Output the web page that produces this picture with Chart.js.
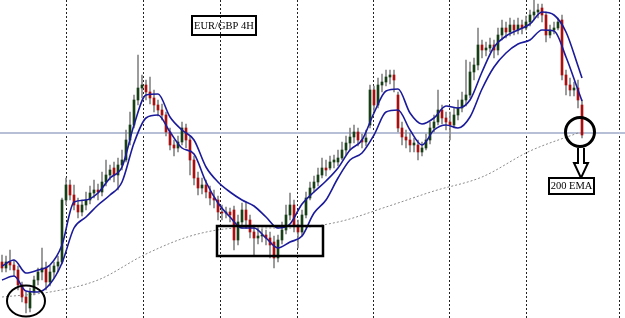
<!DOCTYPE html>
<html>
<head>
<meta charset="utf-8">
<title>EUR/GBP 4H</title>
<script src="https://cdn.jsdelivr.net/npm/chart.js@4.4.1/dist/chart.umd.min.js"></script>
<style>
  html, body { margin: 0; padding: 0; background: #fff; }
  canvas { display: block; }
</style>
</head>
<body>
<canvas id="grafico" width="625" height="318"></canvas>
<script>
// EUR/GBP 4H, quotes in 1/10000 (8456 = 0.8456), one entry per candle
const open = [
  8456,8450,8456,8453,8448,8433,8421,8410,8426,8438, 8446,8450,8436,8446,8452,8456,8518,8533,8523,8513,
  8506,8513,8518,8525,8528,8526,8536,8543,8550,8543, 8553,8558,8578,8593,8618,8630,8633,8626,8620,8613,
  8608,8603,8586,8573,8570,8576,8590,8578,8558,8540, 8530,8533,8526,8520,8518,8506,8505,8506,8508,8478,
  8496,8508,8498,8486,8480,8482,8483,8480,8476,8460, 8478,8488,8503,8513,8493,8486,8503,8520,8530,8536,
  8543,8550,8550,8556,8556,8560,8568,8575,8581,8586, 8578,8576,8593,8628,8613,8633,8636,8641,8643,8623,
  8590,8581,8578,8573,8573,8566,8570,8578,8590,8596, 8608,8600,8596,8593,8603,8610,8618,8623,8646,8653,
  8673,8668,8670,8673,8668,8683,8690,8686,8693,8688, 8693,8690,8696,8703,8706,8710,8703,8683,8688,8690,
  8698,8643,8633,8628,8630,8613
];
const close = [
  8450,8456,8453,8448,8433,8421,8415,8426,8438,8446, 8450,8436,8446,8452,8456,8518,8533,8523,8513,8506,
  8513,8518,8525,8528,8526,8536,8543,8548,8543,8553, 8558,8578,8593,8618,8630,8633,8626,8620,8613,8608,
  8603,8586,8573,8570,8576,8590,8578,8558,8540,8530, 8533,8526,8520,8518,8506,8505,8506,8503,8478,8496,
  8508,8498,8486,8480,8482,8483,8480,8473,8460,8478, 8488,8503,8513,8493,8486,8503,8520,8530,8536,8543,
  8550,8548,8556,8558,8560,8568,8575,8581,8586,8578, 8576,8580,8628,8613,8633,8636,8641,8643,8638,8590,
  8581,8578,8573,8575,8566,8570,8578,8590,8596,8608, 8600,8596,8593,8603,8610,8618,8623,8646,8653,8673,
  8668,8670,8673,8668,8683,8690,8686,8693,8688,8693, 8690,8696,8703,8706,8708,8703,8683,8688,8690,8696,
  8643,8633,8628,8630,8618,8583
];
const high = [
  8463,8462,8468,8458,8452,8436,8426,8430,8442,8450, 8470,8456,8452,8456,8462,8520,8540,8538,8533,8520,
  8518,8526,8532,8538,8534,8546,8558,8553,8556,8560, 8568,8588,8606,8623,8663,8643,8638,8641,8628,8618,
  8614,8606,8590,8578,8582,8596,8594,8582,8562,8546, 8540,8538,8532,8528,8522,8513,8511,8510,8512,8503,
  8515,8516,8503,8493,8490,8489,8488,8486,8482,8483, 8496,8513,8525,8518,8498,8508,8526,8536,8542,8550,
  8560,8558,8562,8563,8568,8576,8582,8590,8593,8590, 8584,8588,8633,8632,8640,8644,8648,8648,8648,8626,
  8596,8588,8585,8580,8578,8576,8584,8596,8603,8628, 8613,8606,8606,8610,8618,8626,8658,8656,8660,8690,
  8678,8676,8680,8678,8690,8698,8696,8700,8698,8700, 8698,8702,8708,8718,8714,8714,8706,8693,8696,8700,
  8703,8648,8640,8636,8638,8618
];
const low = [
  8446,8446,8448,8442,8428,8416,8405,8406,8423,8433, 8438,8428,8432,8440,8446,8454,8513,8518,8508,8500,
  8502,8508,8514,8520,8518,8522,8532,8538,8536,8528, 8548,8556,8573,8590,8613,8620,8618,8614,8606,8602,
  8598,8582,8568,8562,8566,8573,8570,8543,8533,8523, 8524,8520,8513,8510,8498,8498,8500,8496,8468,8473,
  8492,8490,8480,8463,8474,8476,8473,8460,8450,8456, 8474,8484,8498,8486,8470,8482,8500,8518,8526,8532,
  8540,8542,8548,8550,8552,8558,8563,8568,8575,8572, 8570,8572,8590,8606,8610,8626,8632,8634,8626,8586,
  8573,8570,8566,8566,8558,8562,8568,8574,8586,8593, 8594,8588,8578,8590,8598,8606,8612,8620,8638,8648,
  8660,8662,8666,8660,8663,8678,8680,8682,8683,8684, 8684,8688,8692,8698,8700,8696,8676,8680,8684,8688,
  8638,8623,8622,8622,8610,8580
];

const emaIdx = [0,3,6,9,12,15,18,21,24,27,30,33,36,39,42,45,48,51,54,57,60,63,66,69,72,75,78,81,84,87,
  90,93,96,99,102,105,108,111,114,117,120,123,126,129,132,135,138,141,144,145];
const emaFast = [8452,8458,8445,8448,8453,8473,8516,8518,8525,8540,8551,8593,8623,8624,8601,8588,8578,8551,8536,8526,
  8518,8512,8501,8490,8494,8514,8526,8537,8550,8568,8578,8605,8627,8629,8605,8594,8600,8612,8610,8618,
  8646,8671,8682,8688,8694,8706,8703,8686,8652,8640];
const emaSlow = [8438,8442,8427,8426,8434,8455,8490,8501,8513,8523,8536,8575,8600,8603,8586,8570,8564,8536,8515,8501,
  8490,8490,8480,8470,8476,8482,8505,8518,8540,8558,8565,8583,8606,8608,8588,8573,8588,8593,8590,8601,
  8629,8651,8665,8674,8678,8688,8687,8661,8628,8617];
const ema200Idx = [0,12,24,36,48,60,72,84,96,108,120,132,144];
const ema200 = [8421,8426,8438,8464,8483,8490,8490,8496,8511,8527,8541,8567,8585];

const level = 8585;           // horizontal line
const sessionBreaks = [16, 35.25, 54.5, 73.75, 92.75, 111.75, 131, 154.25];
const zoneX = [53.75, 80.25], zoneY = [8462, 8492];   // consolidation box
const lowMark = {x: 6, y: 8417};      // circled low
const emaTouch = {x: 144.5, y: 8586}; // circled 200 EMA touch

const idx = open.map((_, i) => i);
const wicks = idx.map(i => ({x: i, y: [low[i], high[i]]}));
const bodies = idx.map(i => ({x: i, y: [open[i], close[i]]}));
const bodyColors = idx.map(i => close[i] >= open[i] ? '#163f16' : '#a81010');

const marks = {
  id: 'marks',
  beforeDatasetsDraw(chart) {
    const {ctx, chartArea, scales: {x}} = chart;
    ctx.save();
    ctx.strokeStyle = '#222';
    ctx.lineWidth = 1;
    ctx.setLineDash([2, 2]);
    sessionBreaks.forEach(v => {
      const px = Math.round(x.getPixelForValue(v)) + 0.5;
      ctx.beginPath(); ctx.moveTo(px, chartArea.top); ctx.lineTo(px, chartArea.bottom); ctx.stroke();
    });
    ctx.restore();
  },
  afterDatasetsDraw(chart) {
    const {ctx, scales: {x, y}} = chart;
    ctx.save();
    ctx.strokeStyle = '#000';
    ctx.fillStyle = '#000';
    ctx.textAlign = 'center';
    ctx.textBaseline = 'middle';

    // title
    ctx.lineWidth = 2;
    ctx.strokeRect(192, 16, 64, 19);
    ctx.font = '10.5px "Liberation Serif"';
    ctx.fillText('EUR/GBP 4H', 224, 26);

    // consolidation box
    const x1 = x.getPixelForValue(zoneX[0]), x2 = x.getPixelForValue(zoneX[1]);
    const y1 = y.getPixelForValue(zoneY[1]), y2 = y.getPixelForValue(zoneY[0]);
    ctx.lineWidth = 2.5;
    ctx.strokeRect(x1, y1, x2 - x1, y2 - y1);

    // circled low
    ctx.lineWidth = 2;
    ctx.beginPath();
    ctx.ellipse(x.getPixelForValue(lowMark.x), y.getPixelForValue(lowMark.y), 19, 15.5, 0, 0, Math.PI * 2);
    ctx.stroke();

    // circled touch of the 200 EMA
    const cx = x.getPixelForValue(emaTouch.x), cy = y.getPixelForValue(emaTouch.y);
    ctx.lineWidth = 3;
    ctx.beginPath();
    ctx.arc(cx, cy, 14.5, 0, Math.PI * 2);
    ctx.stroke();

    // hollow arrow down to the label
    const ax = cx + 1, top = cy + 16;
    ctx.lineWidth = 2;
    ctx.beginPath();
    ctx.moveTo(ax - 3, top); ctx.lineTo(ax - 3, top + 15); ctx.lineTo(ax - 7, top + 15);
    ctx.lineTo(ax, top + 30); ctx.lineTo(ax + 7, top + 15); ctx.lineTo(ax + 3, top + 15);
    ctx.lineTo(ax + 3, top);
    ctx.fillStyle = '#fff'; ctx.fill(); ctx.stroke();

    ctx.fillStyle = '#fff';
    ctx.fillRect(549, 178, 45, 16);
    ctx.strokeRect(549, 178, 45, 16);
    ctx.fillStyle = '#000';
    ctx.font = '10.5px "Liberation Serif"';
    ctx.fillText('200 EMA', 571.5, 186.5);
    ctx.restore();
  }
};

const line = (xs, ys, color, width, extra) => Object.assign({
  type: 'line',
  data: xs.map((v, k) => ({x: v, y: ys[k]})),
  borderColor: color, borderWidth: width,
  pointRadius: 0, tension: 0.4, cubicInterpolationMode: 'monotone', fill: false
}, extra);

const ctx = document.getElementById('grafico').getContext('2d');
const grafico = new Chart(ctx, {
  type: 'bar',
  data: {
    datasets: [
      line([-1, 160], [level, level], '#b7bfd6', 2, {order: 6, tension: 0}),
      line(ema200Idx, ema200, '#8c8c8c', 1, {order: 5, borderDash: [2, 2]}),
      {type: 'bar', data: wicks, backgroundColor: '#888888', barThickness: 1, grouped: false, order: 4},
      {type: 'bar', data: bodies, backgroundColor: bodyColors, barThickness: 2, grouped: false, order: 3},
      line(emaIdx, emaSlow, '#1a1a9a', 1.6, {order: 1}),
      line(emaIdx, emaFast, '#1a1a9a', 1.6, {order: 0})
    ]
  },
  options: {
    responsive: false,
    animation: false,
    layout: {padding: 0},
    plugins: {legend: {display: false}, tooltip: {enabled: false}},
    scales: {
      x: {type: 'linear', min: -0.5, max: 155.75, offset: false, display: false},
      y: {min: 8400, max: 8718, display: false}
    }
  },
  plugins: [marks]
});
</script>
</body>
</html>
